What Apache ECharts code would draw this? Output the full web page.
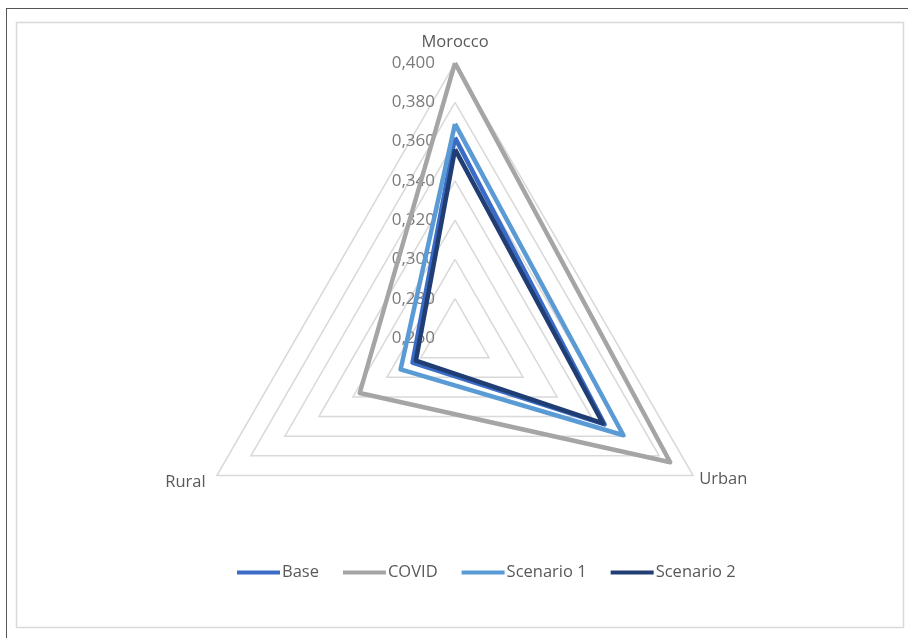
<!DOCTYPE html>
<html>
<head>
<meta charset="utf-8">
<script src="https://cdn.jsdelivr.net/npm/echarts@6/dist/echarts.min.js"></script>
<style>html,body{margin:0;padding:0;background:#fff;}#c{width:908px;height:638px;}</style>
</head>
<body>
<div id="c"></div>
<script>
const indicators = ['Morocco', 'Urban', 'Rural'];
const seriesNames = ['Base', 'COVID', 'Scenario 1', 'Scenario 2'];
const baseValues = [0.362, 0.348, 0.285];
const covidValues = [0.400, 0.3865, 0.316];
const scenario1Values = [0.369, 0.359, 0.292];
const scenario2Values = [0.356, 0.347, 0.283];
const tickLabels = ['0,260', '0,280', '0,300', '0,320', '0,340', '0,360', '0,380', '0,400'];
const axisMin = 0.26, axisMax = 0.40;

const colors = ['#3A6CC6', '#A5A5A5', '#5B9BD5', '#203E74'];
const allValues = [baseValues, covidValues, scenario1Values, scenario2Values];
const font = 'Open Sans';

const chart = echarts.init(document.getElementById('c'));
chart.setOption({
  animation: false,
  backgroundColor: '#fff',
  graphic: [
    { type: 'line', shape: { x1: 6, y1: 8.5, x2: 908, y2: 8.5 }, style: { stroke: '#555', lineWidth: 1 } },
    { type: 'line', shape: { x1: 6.5, y1: 8, x2: 6.5, y2: 638 }, style: { stroke: '#555', lineWidth: 1 } },
    { type: 'rect', shape: { x: 16.5, y: 22.5, width: 887, height: 605 }, style: { fill: '#fff', stroke: '#d9d9d9', lineWidth: 1.5 }, z: -10 }
  ],
  legend: {
    data: seriesNames,
    bottom: 52,
    left: 232,
    icon: 'rect',
    itemWidth: 43,
    itemHeight: 4,
    itemGap: 24,
    textStyle: { color: '#595959', fontSize: 16.5, fontFamily: font, padding: [0, 0, 0, -3] }
  },
  radar: {
    center: [455, 338],
    radius: 275,
    startAngle: 90,
    shape: 'polygon',
    splitNumber: 7,
    indicator: [
      { name: indicators[0], min: axisMin, max: axisMax, nameGap: 12 },
      { name: indicators[2], min: axisMin, max: axisMax, nameGap: 13, axisLabel: { show: false } },
      { name: indicators[1], min: axisMin, max: axisMax, nameGap: 7, axisLabel: { show: false } }
    ],
    axisName: { color: '#595959', fontSize: 16.5, fontFamily: font },
    nameGap: 10,
    axisLine: { show: false },
    axisTick: { show: false },
    splitArea: { show: false },
    splitLine: { lineStyle: { color: '#d9d9d9', width: 1.5 } },
    axisLabel: {
      show: true,
      color: '#7a7a7a',
      fontSize: 17,
      fontFamily: font,
      margin: 20,
      showMinLabel: true,
      formatter: function (v) {
        const idx = Math.round((v - axisMin) / 0.02);
        return tickLabels[idx] !== undefined ? tickLabels[idx] : '';
      }
    }
  },
  series: [{
    type: 'radar',
    symbol: 'none',
    data: seriesNames.map((n, i) => ({
      name: n,
      value: [allValues[i][0], allValues[i][2], allValues[i][1]],
      lineStyle: { color: colors[i], width: 4.5, join: 'round' },
      itemStyle: { color: colors[i] }
    }))
  }]
});
</script>
</body>
</html>
